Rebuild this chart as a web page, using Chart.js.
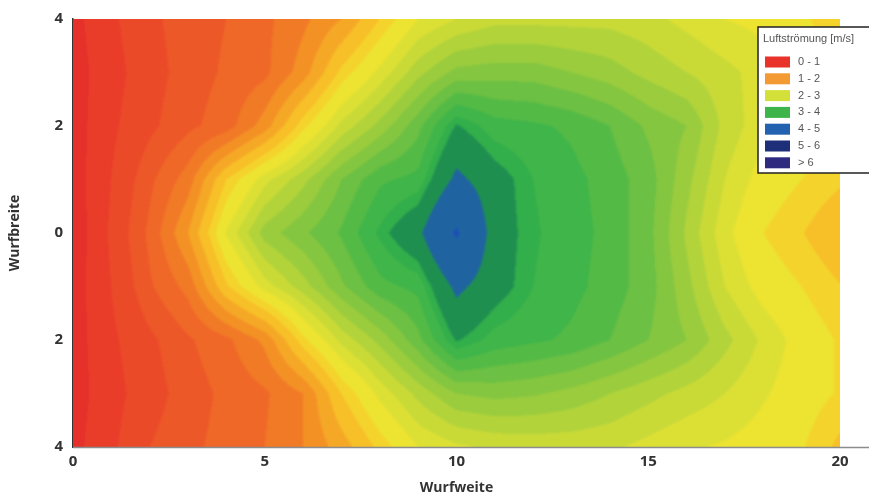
<!DOCTYPE html>
<html>
<head>
<meta charset="utf-8">
<script src="https://cdn.jsdelivr.net/npm/chart.js@4.4.1/dist/chart.umd.min.js"></script>
<style>
  html, body { margin: 0; padding: 0; background: #fff; }
</style>
</head>
<body>
<canvas id="flow" width="869" height="498"></canvas>
<script>
// grid of the measurement: Wurfweite (x) and Wurfbreite (y)
const wurfweite = [0, 1, 2, 3, 4, 5, 6, 7, 8, 9, 10, 11, 12, 13, 14, 15, 16, 17, 18, 19, 20];
const wurfbreite = [4, 3, 2, 1, 0, -1, -2, -3, -4];

// air speed in m/s, one list per row (top to bottom)
const speedY4  = [0.50, 0.85, 1.10, 1.25, 1.35, 1.50, 1.70, 1.95, 2.35, 2.70, 2.85, 2.95, 2.95, 2.95, 2.95, 2.90, 2.80, 2.70, 2.65, 2.55, 2.35];
const speedY3  = [0.45, 0.80, 1.05, 1.25, 1.38, 1.50, 1.85, 2.40, 2.75, 3.10, 3.35, 3.38, 3.38, 3.30, 3.22, 3.10, 3.00, 2.90, 2.78, 2.62, 2.48];
const speedY2  = [0.45, 0.85, 1.10, 1.30, 1.45, 1.85, 2.45, 2.90, 3.20, 3.55, 4.02, 3.82, 3.78, 3.72, 3.60, 3.42, 3.30, 2.95, 2.75, 2.62, 2.50];
const speedY1  = [0.45, 0.90, 1.30, 1.65, 2.35, 2.80, 3.10, 3.45, 3.72, 3.80, 4.38, 4.10, 3.90, 3.80, 3.68, 3.52, 3.20, 2.85, 2.62, 2.50, 2.38];
const speedY0  = [0.40, 0.95, 1.40, 1.95, 2.72, 3.22, 3.42, 3.62, 3.93, 4.22, 5.00, 4.12, 3.92, 3.82, 3.70, 3.50, 3.12, 2.75, 2.50, 2.36, 2.18];
const speedYm1 = [0.45, 0.90, 1.32, 1.62, 2.32, 2.78, 3.08, 3.42, 3.70, 3.80, 4.38, 4.10, 3.90, 3.80, 3.68, 3.52, 3.20, 2.85, 2.62, 2.50, 2.36];
const speedYm2 = [0.45, 0.85, 1.10, 1.32, 1.50, 1.80, 2.45, 2.90, 3.20, 3.55, 4.02, 3.84, 3.78, 3.72, 3.60, 3.45, 3.30, 3.05, 2.82, 2.62, 2.48];
const speedYm3 = [0.45, 0.80, 1.05, 1.25, 1.40, 1.52, 1.75, 2.35, 2.75, 3.05, 3.30, 3.35, 3.32, 3.25, 3.15, 3.05, 2.95, 2.85, 2.72, 2.60, 2.48];
const speedYm4 = [0.50, 0.85, 1.15, 1.30, 1.42, 1.55, 1.75, 2.05, 2.40, 2.70, 2.82, 2.88, 2.90, 2.90, 2.88, 2.80, 2.72, 2.68, 2.62, 2.52, 2.30];

const legendTitle = 'Luftströmung [m/s]';
const legendLabels = ['0 - 1', '1 - 2', '2 - 3', '3 - 4', '4 - 5', '5 - 6', '> 6'];

// styles
const legendColors = ['#e8322a', '#f39a33', '#d4e03a', '#3db54a', '#2262b0', '#1e2f7a', '#2e2a80'];
const bandEdges = [0.6, 0.9, 1.15, 1.35, 1.55, 1.75, 1.95, 2.15, 2.35, 2.5, 2.7, 2.85, 3.0, 3.15, 3.3, 3.45, 3.6, 3.75, 3.9, 4.0, 4.3, 4.93];
const bandColors = ['#e6302a', '#e93d2a', '#eb4a29', '#ed5828', '#ef6827', '#f17a26', '#f39125', '#f5a826',
  '#f7bf28', '#f4d42c', '#ede331', '#dde034', '#c9da37', '#b2d33a', '#9acc3d', '#84c640', '#6cc043',
  '#54ba46', '#40b549', '#32ae4b', '#1f8f50', '#1f64a0', '#1a50b8'];

const speed = [speedY4, speedY3, speedY2, speedY1, speedY0, speedYm1, speedYm2, speedYm3, speedYm4];

function hexRgb(h) {
  return [parseInt(h.slice(1, 3), 16), parseInt(h.slice(3, 5), 16), parseInt(h.slice(5, 7), 16)];
}
const bandRgb = bandColors.map(hexRgb);

function cellIndex(arr, v) {
  const asc = arr[0] < arr[arr.length - 1];
  for (let k = 0; k < arr.length - 1; k++) {
    const a = arr[k], b = arr[k + 1];
    if (asc ? v <= b : v >= b) return [k, (v - a) / (b - a)];
  }
  return [arr.length - 2, 1];
}

function sample(vx, vy) {
  const [i, fx] = cellIndex(wurfweite, vx);
  const [j, fy] = cellIndex(wurfbreite, vy);
  const a = speed[j][i], b = speed[j][i + 1], c = speed[j + 1][i], d = speed[j + 1][i + 1];
  return (a * (1 - fx) + b * fx) * (1 - fy) + (c * (1 - fx) + d * fx) * fy;
}

function band(v) {
  let k = 0;
  while (k < bandEdges.length && v >= bandEdges[k]) k++;
  return bandRgb[k];
}

const contourFill = {
  id: 'contourFill',
  beforeDatasetsDraw(chart) {
    const {ctx, chartArea: area, scales: {x, y}} = chart;
    const w = Math.round(area.right - area.left);
    const h = Math.round(area.bottom - area.top);
    const off = document.createElement('canvas');
    off.width = w; off.height = h;
    const octx = off.getContext('2d');
    const img = octx.createImageData(w, h);
    for (let j = 0; j < h; j++) {
      const vy = y.getValueForPixel(area.top + j + 0.5);
      for (let i = 0; i < w; i++) {
        const vx = x.getValueForPixel(area.left + i + 0.5);
        const c = band(sample(vx, vy));
        const p = (j * w + i) * 4;
        img.data[p] = c[0]; img.data[p + 1] = c[1]; img.data[p + 2] = c[2]; img.data[p + 3] = 255;
      }
    }
    octx.putImageData(img, 0, 0);
    ctx.save();
    ctx.drawImage(off, area.left, area.top);
    ctx.beginPath();
    ctx.rect(area.left, area.top, w, h);
    ctx.clip();
    ctx.filter = 'blur(1px)';
    ctx.drawImage(off, area.left, area.top);
    ctx.restore();
  },
  afterDraw(chart) {
    const {ctx, chartArea: area, width} = chart;
    ctx.save();
    // bottom axis line runs on to the edge of the picture
    ctx.strokeStyle = '#8c8c8c';
    ctx.lineWidth = 1.5;
    ctx.beginPath();
    ctx.moveTo(area.left, area.bottom + 0.5);
    ctx.lineTo(width, area.bottom + 0.5);
    ctx.stroke();

    // legend box
    const bx = 758, by = 27, bw = 120, bh = 146;
    ctx.fillStyle = '#fff';
    ctx.fillRect(bx, by, bw, bh);
    ctx.strokeStyle = '#222';
    ctx.lineWidth = 1.5;
    ctx.strokeRect(bx, by, bw, bh);
    ctx.fillStyle = '#555';
    ctx.font = '11px "Liberation Sans", Arial, sans-serif';
    ctx.textBaseline = 'middle';
    ctx.fillText(legendTitle, bx + 5, by + 12);
    legendLabels.forEach((lab, k) => {
      const cy = by + 35 + k * 16.8;
      ctx.fillStyle = legendColors[k];
      ctx.fillRect(bx + 7, cy - 5.5, 25, 11);
      ctx.fillStyle = '#555';
      ctx.fillText(lab, bx + 40, cy);
    });
    ctx.restore();
  }
};

const nodes = [];
wurfbreite.forEach((yv, j) => wurfweite.forEach((xv, i) => nodes.push({x: xv, y: yv, v: speed[j][i]})));

const tickFont = {family: '"Open Sans", sans-serif', size: 15, weight: 'bold'};
const titleFont = {family: '"Open Sans", sans-serif', size: 14, weight: 'bold'};

new Chart(document.getElementById('flow'), {
  type: 'scatter',
  data: {
    datasets: [{
      label: 'Luftströmung',
      data: nodes,
      pointRadius: 0,
      pointHoverRadius: 0
    }]
  },
  options: {
    responsive: false,
    animation: false,
    layout: {padding: {top: 16, right: 29, left: 0, bottom: 0}},
    plugins: {legend: {display: false}, tooltip: {enabled: false}},
    scales: {
      x: {
        type: 'linear',
        min: 0, max: 20,
        ticks: {stepSize: 5, font: tickFont, color: '#333', padding: 6, maxRotation: 0},
        grid: {display: false, drawTicks: false},
        border: {display: false},
        title: {display: true, text: 'Wurfweite', font: titleFont, color: '#333', padding: {top: 0, bottom: 2}},
        afterFit: s => { s.height = 51; }
      },
      y: {
        type: 'linear',
        min: -4, max: 4,
        ticks: {stepSize: 2, font: tickFont, color: '#333', padding: 10, callback: v => Math.abs(v)},
        grid: {display: false, drawTicks: false},
        border: {display: true, color: '#333', width: 1.5},
        title: {display: true, text: 'Wurfbreite', font: titleFont, color: '#333', padding: {top: 7, bottom: 0}},
        afterFit: s => { s.width = 73; }
      }
    }
  },
  plugins: [contourFill]
});
</script>
</body>
</html>
